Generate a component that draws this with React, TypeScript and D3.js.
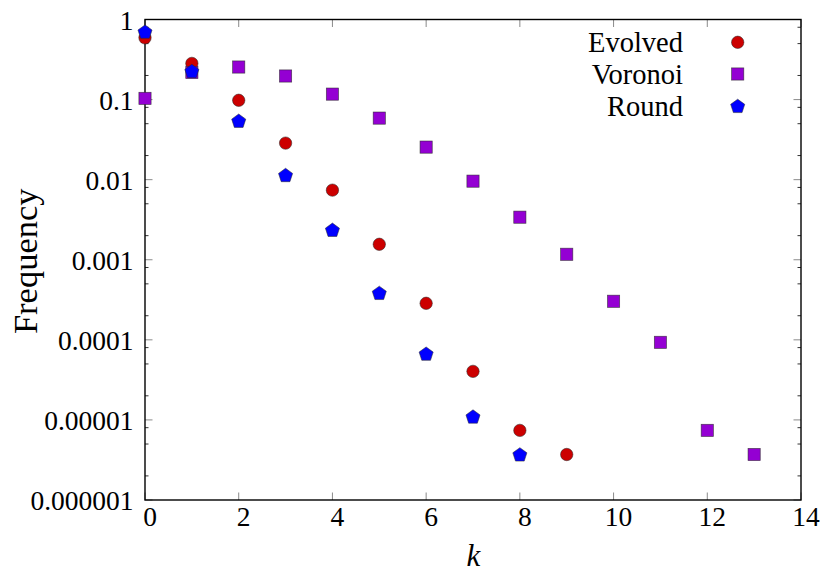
import React from "react";
import * as d3 from "d3";

const evolvedK = [0, 1, 2, 3, 4, 5, 6, 7, 8, 9];
const evolvedF = [0.59, 0.283, 0.098, 0.0286, 0.0074, 0.00156, 0.000286, 0.0000404, 0.0000074, 0.0000037];

const voronoiK = [0, 1, 2, 3, 4, 5, 6, 7, 8, 9, 10, 11, 12, 13];
const voronoiF = [0.1035, 0.218, 0.255, 0.197, 0.117, 0.0587, 0.0255, 0.00958, 0.0034, 0.00117, 0.000303, 0.000093, 0.0000074, 0.0000037];

const roundK = [0, 1, 2, 3, 4, 5, 6, 7, 8];
const roundF = [0.704, 0.227, 0.0543, 0.0114, 0.00236, 0.000385, 0.000067, 0.000011, 0.0000037];

const seriesNames = ["Evolved", "Voronoi", "Round"];
const xTicks = [0, 2, 4, 6, 8, 10, 12, 14];
const yTicks = [1, 0.1, 0.01, 0.001, 0.0001, 0.00001, 0.000001];
const yTickLabels = ["1", "0.1", "0.01", "0.001", "0.0001", "0.00001", "0.000001"];
const minorMult = [2, 5, 8];

const W = 830, H = 581;
const L = 145, R = 801, T = 19.5, B = 500;

const x = d3.scaleLinear().domain([0, 14]).range([L, R]);
const y = d3.scaleLog().domain([1e-6, 1]).range([B, T]);

const COLORS = { Evolved: "#cc0000", Voronoi: "#9400d3", Round: "#0000ff" };
const FONT = '"Liberation Serif", "Times New Roman", "DejaVu Serif", serif';
const TS: React.CSSProperties = { fontFamily: FONT };

function pentagon(r: number) {
  const pts: [number, number][] = [];
  for (let i = 0; i < 5; i++) {
    const a = (-90 + i * 72) * Math.PI / 180;
    pts.push([r * Math.cos(a), r * Math.sin(a)]);
  }
  return d3.line()(pts) + "Z";
}

function Marker({ kind, cx, cy }: { kind: string; cx: number; cy: number }) {
  const stroke = "rgba(40,40,40,0.75)";
  if (kind === "Evolved")
    return <circle cx={cx} cy={cy} r={6.2} fill={COLORS.Evolved} stroke={stroke} strokeWidth={0.7} />;
  if (kind === "Voronoi")
    return <rect x={cx - 6.1} y={cy - 6.1} width={12.2} height={12.2} fill={COLORS.Voronoi} stroke={stroke} strokeWidth={0.7} />;
  return <path transform={`translate(${cx},${cy + 0.6})`} d={pentagon(7.4)} fill={COLORS.Round} stroke={stroke} strokeWidth={0.7} />;
}

export default function App() {
  const minorTicks: number[] = [];
  for (let e = -6; e < 0; e++) for (const m of minorMult) minorTicks.push(m * Math.pow(10, e));

  const data: [string, number[], number[]][] = [
    ["Evolved", evolvedK, evolvedF],
    ["Voronoi", voronoiK, voronoiF],
    ["Round", roundK, roundF],
  ];
  const legendY = [42.3, 74, 106];

  return (
    <svg width={W} height={H} style={{ position: "absolute", left: 0, top: 0, background: "#fff" }}>
      <rect x={0} y={0} width={W} height={H} fill="#fff" />
      {minorTicks.map((v, i) => (
        <g key={"mn" + i}>
          <line x1={L} x2={L + 3.5} y1={y(v)} y2={y(v)} stroke="#000" strokeWidth={0.8} />
          <line x1={R} x2={R - 3.5} y1={y(v)} y2={y(v)} stroke="#000" strokeWidth={0.8} />
        </g>
      ))}
      {yTicks.map((v, i) => (
        <g key={"my" + i}>
          <line x1={L} x2={L + 7.5} y1={y(v)} y2={y(v)} stroke="#8a8a8a" strokeWidth={1} />
          <line x1={R} x2={R - 7.5} y1={y(v)} y2={y(v)} stroke="#8a8a8a" strokeWidth={1} />
          <text x={133.5} y={y(v) + 10} textAnchor="end" fontSize={27.5} fill="#000" style={TS}>{yTickLabels[i]}</text>
        </g>
      ))}
      {xTicks.map((v, i) => (
        <g key={"mx" + i}>
          <line x1={x(v)} x2={x(v)} y1={B} y2={B - 7.5} stroke="#8a8a8a" strokeWidth={1} />
          <line x1={x(v)} x2={x(v)} y1={T} y2={T + 7.5} stroke="#8a8a8a" strokeWidth={1} />
          <text x={x(v) + 5} y={526} textAnchor="middle" fontSize={27.5} fill="#000" style={TS}>{String(v)}</text>
        </g>
      ))}
      <rect x={L} y={T} width={R - L} height={B - T} fill="none" stroke="#000" strokeWidth={1.4} />

      {data.map(([name, ks, fs]) => (
        <g key={name}>
          {ks.map((k, i) => (
            <Marker key={i} kind={name} cx={x(k)} cy={y(fs[i])} />
          ))}
        </g>
      ))}

      {seriesNames.map((n, i) => (
        <g key={"lg" + n}>
          <text x={683} y={legendY[i] + 9.5} textAnchor="end" fontSize={28.5} fill="#000" style={TS}>{n}</text>
          <Marker kind={n} cx={737.7} cy={legendY[i]} />
        </g>
      ))}

      <text x={473.5} y={566} textAnchor="middle" fontSize={31} fontStyle="italic" fill="#000" style={TS}>k</text>
      <text transform={`translate(37,${(T + B) / 2 + 1.5}) rotate(-90)`} textAnchor="middle" fontSize={34.5} fill="#000" style={TS}>Frequency</text>
    </svg>
  );
}
